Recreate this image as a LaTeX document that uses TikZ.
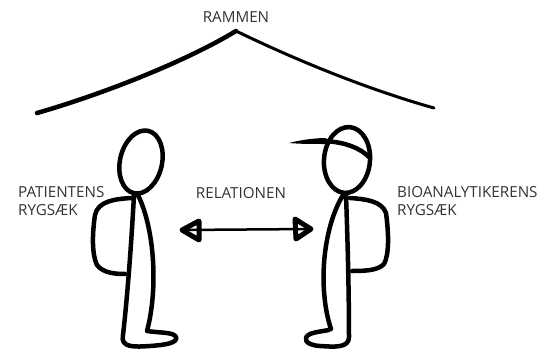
\documentclass[tikz,border=0pt]{standalone}
\usepackage{fontspec}
\setmainfont{Open Sans}
\usepackage{tikz}
\usetikzlibrary{positioning}
\definecolor{tekstGra}{RGB}{51,51,51}
\tikzstyle{streg}=[line width=4.5pt, line cap=round, line join=round]
\tikzstyle{tynd}=[line width=3pt, line cap=round, line join=round]
\tikzstyle{tekst}=[text=tekstGra, font=\fontsize{15.2}{18}\selectfont,
                   inner sep=0pt, align=left]
\tikzstyle{pil}=[line width=2.5pt, line cap=round]
\tikzstyle{hoved}=[line width=5pt, line join=round]

\begin{document}
\begin{tikzpicture}[x=1pt,y=-1pt]
    \useasboundingbox (0,0) rectangle (539,351);

    % taget
    \node (rammen) [tekst] at (236,17) {RAMMEN};
    \draw [streg] (37,113) .. controls (100,95) and (185,62) .. (236,31);
    \draw [tynd] (236,31) .. controls (300,62) and (370,90) .. (434,108);

    % patienten
    \begin{scope}
        \draw [streg, rotate around={-13:(141,162)}] (141,162) ellipse (21 and 32);
        \draw [streg] (134,195) .. controls (131,250) and (127,300) .. (123,335)
            .. controls (120,348) and (135,347) .. (150,346)
            .. controls (165,345) and (178,343) .. (176,337)
            .. controls (174,332) and (160,333) .. (147,331)
            .. controls (158,290) and (155,230) .. (138,195);
        \draw [streg] (131,198) .. controls (115,199) and (98,201) .. (95,215)
            .. controls (92,235) and (92,255) .. (97,265)
            .. controls (103,273) and (115,274) .. (125,274);
    \end{scope}

    % bioanalytikeren
    \begin{scope}
        \draw [streg, rotate around={-5:(347,160)}] (347,160) ellipse (23 and 33);
        \draw [streg] (324,141) .. controls (345,142) and (360,148) .. (369,157);
        \fill (289,143) .. controls (300,140) and (315,138) .. (326,138)
            -- (326,144) .. controls (312,144) and (300,144) .. (289,143) -- cycle;
        \draw [streg] (346,195) .. controls (348,250) and (349,300) .. (349,337)
            .. controls (349,348) and (335,347) .. (320,346)
            .. controls (305,345) and (302,338) .. (310,334)
            .. controls (318,331) and (328,331) .. (331,329)
            .. controls (318,290) and (322,230) .. (343,195);
        \draw [streg] (350,198) .. controls (365,199) and (382,201) .. (386,213)
            .. controls (389,235) and (389,255) .. (384,264)
            .. controls (378,270) and (368,271) .. (352,271);
    \end{scope}

    % relationen
    \node (relation) [tekst] at (241,193) {RELATIONEN};
    \coordinate (relA) at (182,230);
    \coordinate (relB) at (311,229);
    \draw [pil] (relA) -- (relB);
    \draw [hoved] (relA) -- ++(17,-9) -- ++(0,19) -- cycle;
    \draw [hoved] (relB) -- ++(-16,-10) -- ++(1,20) -- cycle;

    \node (patient) [tekst, anchor=west] at (18,201) {PATIENTENS\\RYGSÆK};
    \node (bioanalytiker) [tekst, anchor=west] at (397,201) {BIOANALYTIKERENS\\RYGSÆK};
\end{tikzpicture}
\end{document}
